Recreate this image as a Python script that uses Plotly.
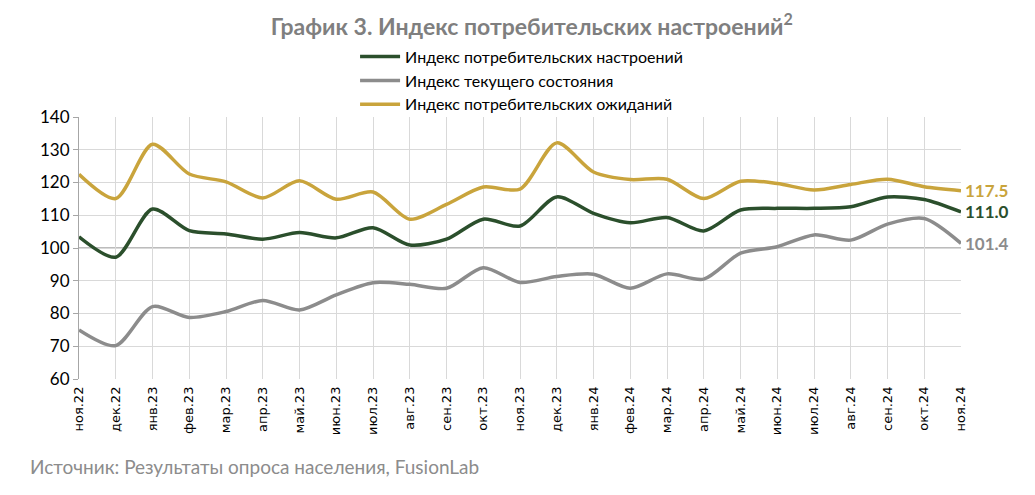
import plotly.graph_objects as go

months = ["ноя.22", "дек.22", "янв.23", "фев.23", "мар.23", "апр.23", "май.23", "июн.23",
          "июл.23", "авг.23", "сен.23", "окт.23", "ноя.23", "дек.23", "янв.24", "фев.24",
          "мар.24", "апр.24", "май.24", "июн.24", "июл.24", "авг.24", "сен.24", "окт.24", "ноя.24"]

sentiment = [103.4, 97.2, 111.9, 105.3, 104.3, 102.7, 104.7, 103.1, 106.2, 100.9, 102.7, 108.8,
             106.7, 115.6, 110.6, 107.7, 109.3, 105.2, 111.6, 112.1, 112.1, 112.6, 115.6, 114.8, 111.0]
current = [75.0, 70.2, 82.1, 78.8, 80.6, 84.0, 81.1, 85.7, 89.4, 88.9, 87.7, 94.0,
           89.5, 91.3, 92.0, 87.7, 92.1, 90.5, 98.4, 100.4, 104.0, 102.4, 107.3, 109.0, 101.4]
expectations = [122.5, 115.1, 131.7, 122.6, 120.2, 115.3, 120.5, 114.9, 117.1, 108.8, 113.3, 118.6,
                118.0, 132.1, 123.2, 120.9, 121.0, 115.1, 120.4, 119.7, 117.7, 119.4, 121.0, 118.7, 117.5]

series_names = ["Индекс потребительских настроений", "Индекс текущего состояния",
                "Индекс потребительских ожиданий"]
colors = ["#2B4F2C", "#8C8C8C", "#C9A43C"]
series = [sentiment, current, expectations]

x_idx = list(range(len(months)))

fig = go.Figure()
for name, vals, col in zip(series_names, series, colors):
    fig.add_trace(go.Scatter(x=x_idx, y=vals, mode="lines", name=name,
                             line=dict(color=col, width=3.5, shape="spline", smoothing=0.8),
                             cliponaxis=False))

# end labels
for vals, col in zip(series, colors):
    fig.add_annotation(x=x_idx[-1], y=vals[-1], text=f"<b>{vals[-1]:.1f}</b>",
                       xanchor="left", yanchor="middle", xshift=2, showarrow=False,
                       font=dict(family="Lato", size=17, color=col))

# axis line at 100
fig.add_shape(type="line", xref="paper", x0=0, x1=1, yref="y", y0=100, y1=100,
              line=dict(color="#A6A6A6", width=1.3), layer="below")

fig.update_layout(
    width=1027, height=487,
    margin=dict(l=71, r=74, t=109, b=116),
    paper_bgcolor="white", plot_bgcolor="white",
    title=dict(text="<b>График 3. Индекс потребительских настроений<sup>2</sup></b>",
               x=0.51, xanchor="center", y=0.962, yanchor="middle",
               font=dict(family="Lato", size=23, color="#7F7F7F")),
    legend=dict(x=0.313, xanchor="left", y=1.295, yanchor="top",
                font=dict(family="Lato", size=16, color="black"),
                itemwidth=40, tracegroupgap=0, bgcolor="rgba(0,0,0,0)"),
    showlegend=True,
    xaxis=dict(range=[0, 24], tickmode="array", tickvals=x_idx, ticktext=months,
               tickangle=-90, showgrid=True, gridcolor="#D9D9D9", gridwidth=1,
               zeroline=False, showline=False, ticks="", ticklabelstandoff=4,
               tickfont=dict(family="DejaVu Sans", size=13, color="black")),
    yaxis=dict(range=[60, 140], dtick=10, showgrid=True, gridcolor="#D9D9D9", gridwidth=1,
               zeroline=False, showline=True, linecolor="#A6A6A6", linewidth=1,
               ticks="outside", ticklen=5, tickcolor="#A6A6A6",
               tickfont=dict(family="Lato", size=17, color="black")),
)

fig.add_annotation(text="Источник: Результаты опроса населения, FusionLab",
                   xref="paper", yref="paper", x=-0.058, y=-0.335, xanchor="left", yanchor="middle",
                   showarrow=False, font=dict(family="Lato", size=19, color="#8C8C8C"))

fig.write_html("out.html")
